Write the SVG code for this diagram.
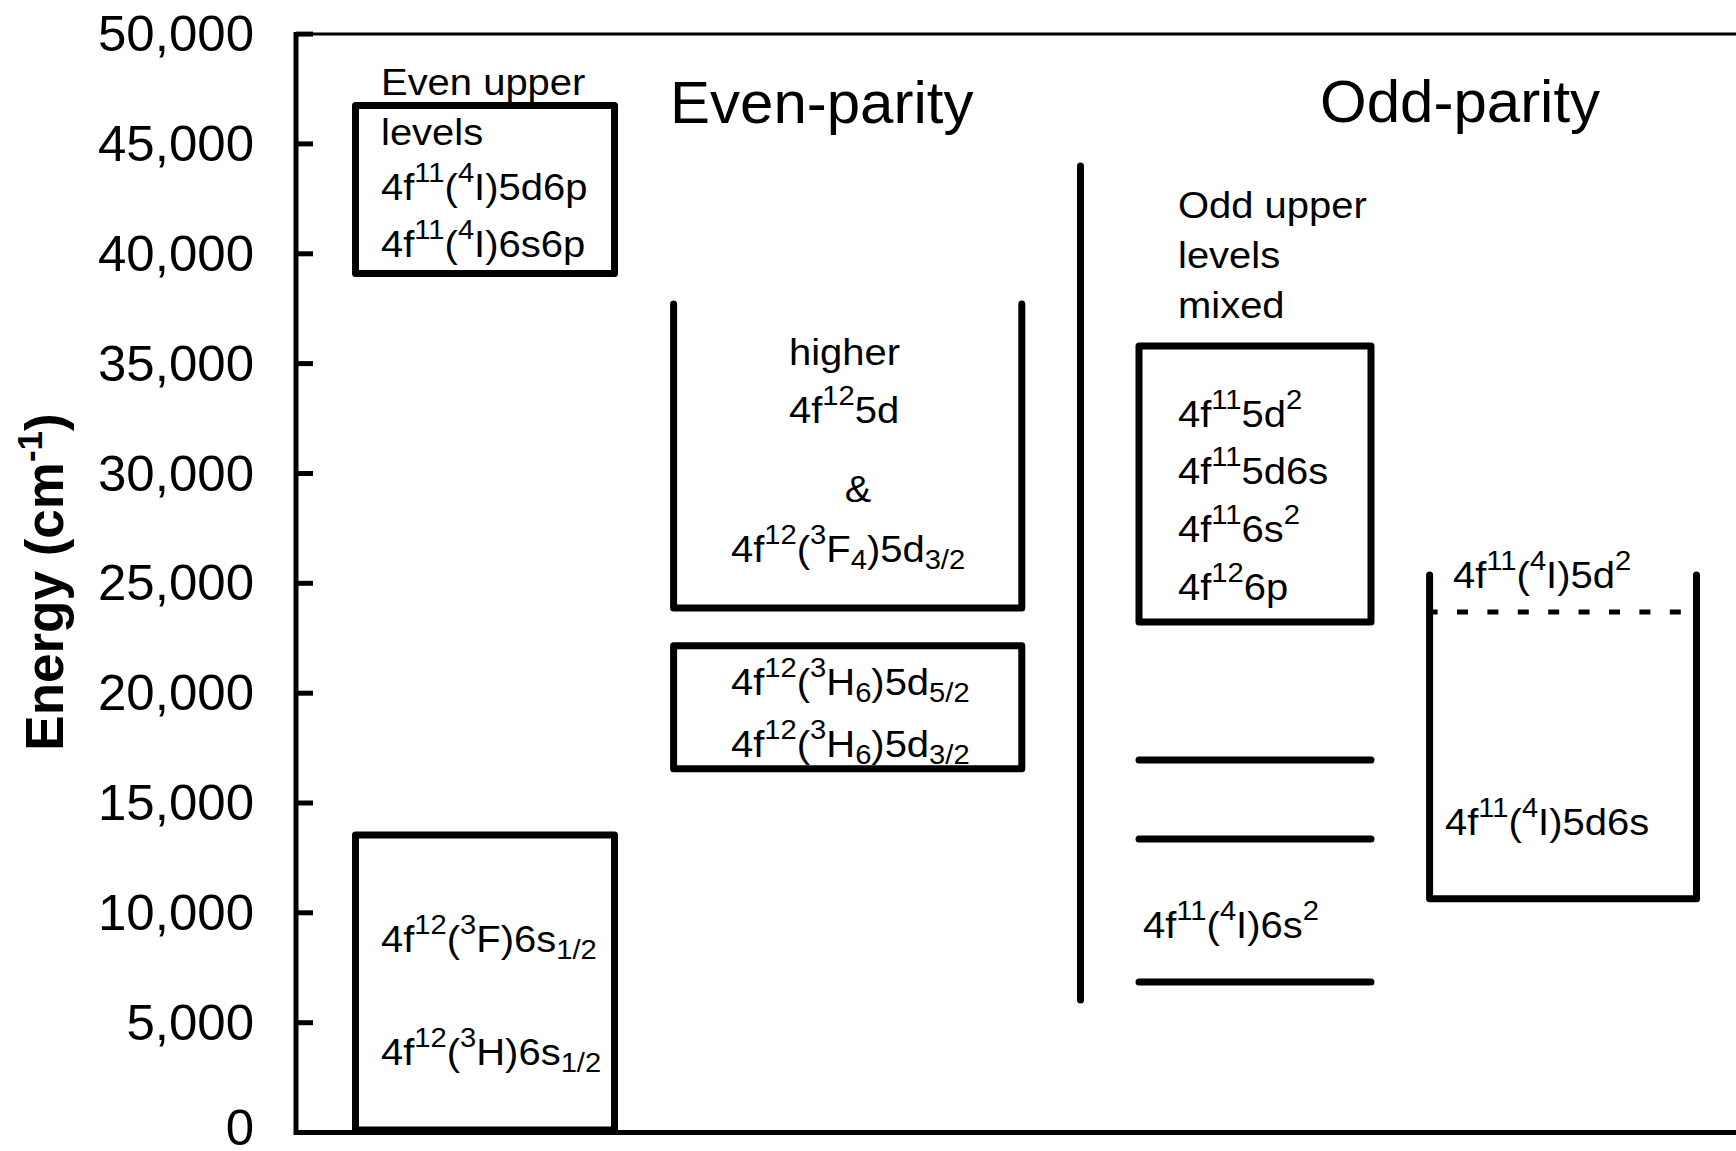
<svg xmlns="http://www.w3.org/2000/svg" width="1736" height="1151" viewBox="0 0 1736 1151">
  <style>
    .ax { stroke: #000; fill: none; }
    .box { stroke: #000; stroke-width: 7; fill: none; stroke-linecap: round; stroke-linejoin: round; }
    .lvl { stroke: #000; stroke-width: 7; stroke-linecap: round; }
    .t { font-family: "Liberation Sans", Arial, sans-serif; font-size: 37px; fill: #000; }
    .s { font-size: 27px; }
    .tick { font-family: "Liberation Sans", Arial, sans-serif; font-size: 50px; fill: #000; text-anchor: end; }
    .title { font-family: "Liberation Sans", Arial, sans-serif; font-size: 60px; fill: #000; }
    .ylab { font-family: "Liberation Sans", Arial, sans-serif; font-size: 53px; font-weight: bold; fill: #000; text-anchor: middle; }
    .ys { font-size: 35px; }
  </style>
  <rect width="1736" height="1151" fill="#fff"/>

  <!-- axes frame, ticks and labels -->
  <g id="axes">
    <line class="ax" x1="296" y1="34" x2="1736" y2="34" stroke-width="3"/>
    <line class="ax" x1="296" y1="32" x2="296" y2="1135" stroke-width="5"/>
    <line class="ax" x1="294" y1="1132.6" x2="1736" y2="1132.6" stroke-width="5"/>
    <g class="ax" stroke-width="5">
      <line x1="296" y1="34.1" x2="313" y2="34.1"/>
      <line x1="296" y1="143.9" x2="313" y2="143.9"/>
      <line x1="296" y1="253.8" x2="313" y2="253.8"/>
      <line x1="296" y1="363.6" x2="313" y2="363.6"/>
      <line x1="296" y1="473.5" x2="313" y2="473.5"/>
      <line x1="296" y1="583.3" x2="313" y2="583.3"/>
      <line x1="296" y1="693.2" x2="313" y2="693.2"/>
      <line x1="296" y1="803" x2="313" y2="803"/>
      <line x1="296" y1="912.8" x2="313" y2="912.8"/>
      <line x1="296" y1="1022.7" x2="313" y2="1022.7"/>
    </g>
    <text class="tick" transform="translate(254 51) scale(1.02 1)">50,000</text>
    <text class="tick" transform="translate(254 161) scale(1.02 1)">45,000</text>
    <text class="tick" transform="translate(254 271) scale(1.02 1)">40,000</text>
    <text class="tick" transform="translate(254 381) scale(1.02 1)">35,000</text>
    <text class="tick" transform="translate(254 491) scale(1.02 1)">30,000</text>
    <text class="tick" transform="translate(254 600) scale(1.02 1)">25,000</text>
    <text class="tick" transform="translate(254 710) scale(1.02 1)">20,000</text>
    <text class="tick" transform="translate(254 820) scale(1.02 1)">15,000</text>
    <text class="tick" transform="translate(254 930) scale(1.02 1)">10,000</text>
    <text class="tick" transform="translate(254 1040) scale(1.02 1)">5,000</text>
    <text class="tick" transform="translate(254 1145) scale(1.02 1)">0</text>
    <text class="ylab" transform="translate(63 582) rotate(-90)">Energy (cm<tspan class="ys" dy="-21">-1</tspan><tspan dy="21">)</tspan></text>
  </g>

  <!-- parity headings and divider -->
  <g id="headings">
    <text class="title" x="670" y="123">Even-parity</text>
    <text class="title" x="1320" y="122">Odd-parity</text>
    <line class="lvl" x1="1080.5" y1="166" x2="1080.5" y2="1000"/>
  </g>

  <!-- even upper levels -->
  <g id="even-upper">
    <rect class="box" x="355.5" y="105.5" width="259" height="168"/>
    <text class="t" transform="translate(381 95) scale(1.08 1)">Even upper</text>
    <text class="t" transform="translate(381 145) scale(1.08 1)">levels</text>
    <text class="t" transform="translate(381 200) scale(1.08 1)">4f<tspan class="s" dy="-18">11</tspan><tspan dy="18">(</tspan><tspan class="s" dy="-18">4</tspan><tspan dy="18">I)5d6p</tspan></text>
    <text class="t" transform="translate(381 257) scale(1.08 1)">4f<tspan class="s" dy="-18">11</tspan><tspan dy="18">(</tspan><tspan class="s" dy="-18">4</tspan><tspan dy="18">I)6s6p</tspan></text>
  </g>

  <!-- higher 4f12 5d band -->
  <g id="even-5d-band">
    <polyline class="box" points="673.6,304 673.6,608 1021.8,608 1021.8,304"/>
    <text class="t" transform="translate(789 365) scale(1.08 1)">higher</text>
    <text class="t" transform="translate(789 423) scale(1.08 1)">4f<tspan class="s" dy="-18">12</tspan><tspan dy="18">5d</tspan></text>
    <text class="t" transform="translate(858 502) scale(1.08 1)" text-anchor="middle">&amp;</text>
    <text class="t" transform="translate(731 562) scale(1.08 1)">4f<tspan class="s" dy="-18">12</tspan><tspan dy="18">(</tspan><tspan class="s" dy="-18">3</tspan><tspan dy="18">F</tspan><tspan class="s" dy="7">4</tspan><tspan dy="-7">)5d</tspan><tspan class="s" dy="7">3/2</tspan></text>
  </g>

  <!-- 3H6 5d levels -->
  <g id="even-h6-5d">
    <rect class="box" x="673.6" y="645.8" width="348.2" height="123"/>
    <text class="t" transform="translate(731 695) scale(1.08 1)">4f<tspan class="s" dy="-18">12</tspan><tspan dy="18">(</tspan><tspan class="s" dy="-18">3</tspan><tspan dy="18">H</tspan><tspan class="s" dy="7">6</tspan><tspan dy="-7">)5d</tspan><tspan class="s" dy="7">5/2</tspan></text>
    <text class="t" transform="translate(731 757) scale(1.08 1)">4f<tspan class="s" dy="-18">12</tspan><tspan dy="18">(</tspan><tspan class="s" dy="-18">3</tspan><tspan dy="18">H</tspan><tspan class="s" dy="7">6</tspan><tspan dy="-7">)5d</tspan><tspan class="s" dy="7">3/2</tspan></text>
  </g>

  <!-- even ground configurations -->
  <g id="even-ground">
    <rect class="box" x="355.5" y="835" width="259" height="295"/>
    <text class="t" transform="translate(381 952) scale(1.08 1)">4f<tspan class="s" dy="-18">12</tspan><tspan dy="18">(</tspan><tspan class="s" dy="-18">3</tspan><tspan dy="18">F)6s</tspan><tspan class="s" dy="7">1/2</tspan></text>
    <text class="t" transform="translate(381 1065) scale(1.08 1)">4f<tspan class="s" dy="-18">12</tspan><tspan dy="18">(</tspan><tspan class="s" dy="-18">3</tspan><tspan dy="18">H)6s</tspan><tspan class="s" dy="7">1/2</tspan></text>
  </g>

  <!-- odd upper levels -->
  <g id="odd-upper">
    <text class="t" transform="translate(1178 218) scale(1.08 1)">Odd upper</text>
    <text class="t" transform="translate(1178 268) scale(1.08 1)">levels</text>
    <text class="t" transform="translate(1178 318) scale(1.08 1)">mixed</text>
    <rect class="box" x="1139" y="346" width="232" height="276"/>
    <text class="t" transform="translate(1178 427) scale(1.08 1)">4f<tspan class="s" dy="-18">11</tspan><tspan dy="18">5d</tspan><tspan class="s" dy="-18">2</tspan></text>
    <text class="t" transform="translate(1178 484) scale(1.08 1)">4f<tspan class="s" dy="-18">11</tspan><tspan dy="18">5d6s</tspan></text>
    <text class="t" transform="translate(1178 542) scale(1.08 1)">4f<tspan class="s" dy="-18">11</tspan><tspan dy="18">6s</tspan><tspan class="s" dy="-18">2</tspan></text>
    <text class="t" transform="translate(1178 600) scale(1.08 1)">4f<tspan class="s" dy="-18">12</tspan><tspan dy="18">6p</tspan></text>
  </g>

  <!-- odd low-lying levels -->
  <g id="odd-6s2">
    <line class="lvl" x1="1139" y1="760" x2="1371" y2="760"/>
    <line class="lvl" x1="1139" y1="839" x2="1371" y2="839"/>
    <line class="lvl" x1="1139" y1="982" x2="1371" y2="982"/>
    <text class="t" transform="translate(1143 938) scale(1.08 1)">4f<tspan class="s" dy="-18">11</tspan><tspan dy="18">(</tspan><tspan class="s" dy="-18">4</tspan><tspan dy="18">I)6s</tspan><tspan class="s" dy="-18">2</tspan></text>
  </g>

  <!-- odd 5d6s band with 5d2 onset -->
  <g id="odd-5d6s">
    <polyline class="box" stroke-width="6" points="1429.6,575 1429.6,898.7 1696.5,898.7 1696.5,575"/>
    <line x1="1426.6" y1="612" x2="1684" y2="612" stroke="#000" stroke-width="5" stroke-dasharray="11 19.4"/>
    <text class="t" transform="translate(1453 588) scale(1.08 1)">4f<tspan class="s" dy="-18">11</tspan><tspan dy="18">(</tspan><tspan class="s" dy="-18">4</tspan><tspan dy="18">I)5d</tspan><tspan class="s" dy="-18">2</tspan></text>
    <text class="t" transform="translate(1445 835) scale(1.08 1)">4f<tspan class="s" dy="-18">11</tspan><tspan dy="18">(</tspan><tspan class="s" dy="-18">4</tspan><tspan dy="18">I)5d6s</tspan></text>
  </g>
</svg>
